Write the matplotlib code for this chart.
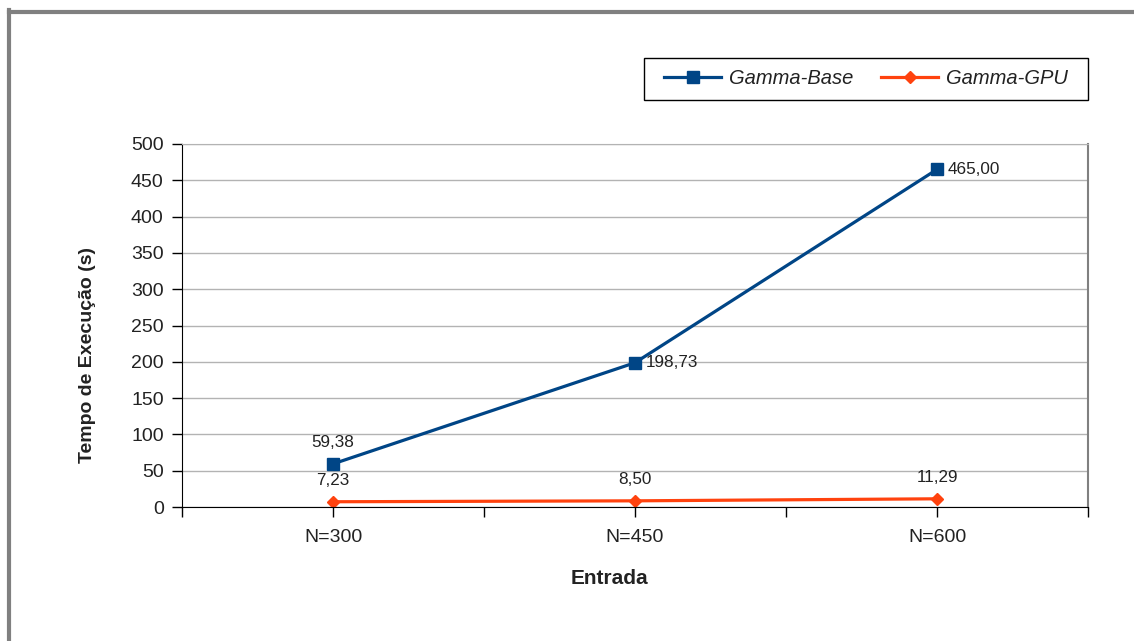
import matplotlib.pyplot as plt
import numpy as np
from matplotlib.lines import Line2D
from matplotlib.patches import Rectangle

# dados do gráfico
entradas = ['N=300', 'N=450', 'N=600']
gamma_base = [59.38, 198.73, 465.00]
gamma_gpu = [7.23, 8.50, 11.29]

azul = '#004586'
laranja = '#ff420e'

plt.rcParams['font.family'] = ['Liberation Sans', 'DejaVu Sans']

fig = plt.figure(figsize=(11.34, 6.41), dpi=100)
ax = fig.add_axes([182/1134, 1 - 507/641, (1088 - 182)/1134, (507 - 144)/641])

x = np.arange(len(entradas))

ax.plot(x, gamma_base, color=azul, lw=2.3, marker='s', ms=9, label='Gamma-Base')
ax.plot(x, gamma_gpu, color=laranja, lw=2.3, marker='D', ms=6.5, label='Gamma-GPU')

def fmt(v):
    return f'{v:.2f}'.replace('.', ',')

# rótulos dos valores
ax.annotate(fmt(gamma_base[0]), (x[0], gamma_base[0]), xytext=(0, 10), textcoords='offset points',
            ha='center', va='bottom', fontsize=12.3, color='#222222')
for i in (1, 2):
    ax.annotate(fmt(gamma_base[i]), (x[i], gamma_base[i]), xytext=(8, 0), textcoords='offset points',
                ha='left', va='center', fontsize=12.3, color='#222222')
for i in range(3):
    ax.annotate(fmt(gamma_gpu[i]), (x[i], gamma_gpu[i]), xytext=(0, 10), textcoords='offset points',
                ha='center', va='bottom', fontsize=12.3, color='#222222')

ax.set_xlim(-0.5, 2.5)
ax.set_ylim(0, 500)
ax.set_yticks(np.arange(0, 501, 50))
ax.set_xticks(x)
ax.set_xticklabels(entradas)
ax.set_xticks([-0.5, 0.5, 1.5, 2.5], minor=True)
ax.tick_params(axis='both', which='both', direction='out', length=7.2, width=1, color='black',
               labelsize=14, labelcolor='#222222')
ax.tick_params(axis='y', pad=6)
ax.tick_params(axis='x', pad=9)

ax.grid(axis='y', color='#b3b3b3', lw=1)
ax.set_axisbelow(True)
ax.spines['top'].set_color('#b3b3b3')
ax.spines['right'].set_color('#808080')
ax.spines['right'].set_linewidth(1.5)
ax.spines['left'].set_color('black')
ax.spines['bottom'].set_color('black')

fig.text(88/1134, 1 - 355/641, 'Tempo de Execução (s)', rotation=90, ha='center', va='center',
         fontsize=14, fontweight='bold', color='#222222')
fig.text(609/1134, 1 - 579/641, 'Entrada', ha='center', va='center',
         fontsize=15, fontweight='bold', color='#222222')

# legenda: caixa desenhada à parte
fig.add_artist(Rectangle((644/1134, 1 - 100/641), (1088 - 644)/1134, 42/641, transform=fig.transFigure,
                         fill=False, edgecolor='black', lw=1))
leg = ax.legend(loc='center', bbox_to_anchor=(866/1134, 1 - 79/641), bbox_transform=fig.transFigure,
                ncol=2, frameon=False, borderaxespad=0, borderpad=0, handlelength=2.8,
                handletextpad=0.4, columnspacing=1.4, prop={'style': 'italic', 'size': 14.5})
for t in leg.get_texts():
    t.set_color('#222222')

# moldura cinza
fig.add_artist(Line2D([9/1134, 1], [1 - 12/641, 1 - 12/641], color='#808080', lw=3, transform=fig.transFigure))
fig.add_artist(Line2D([9/1134, 9/1134], [0, 1 - 10/641], color='#808080', lw=3, transform=fig.transFigure))

plt.savefig('out.png', dpi=100)
